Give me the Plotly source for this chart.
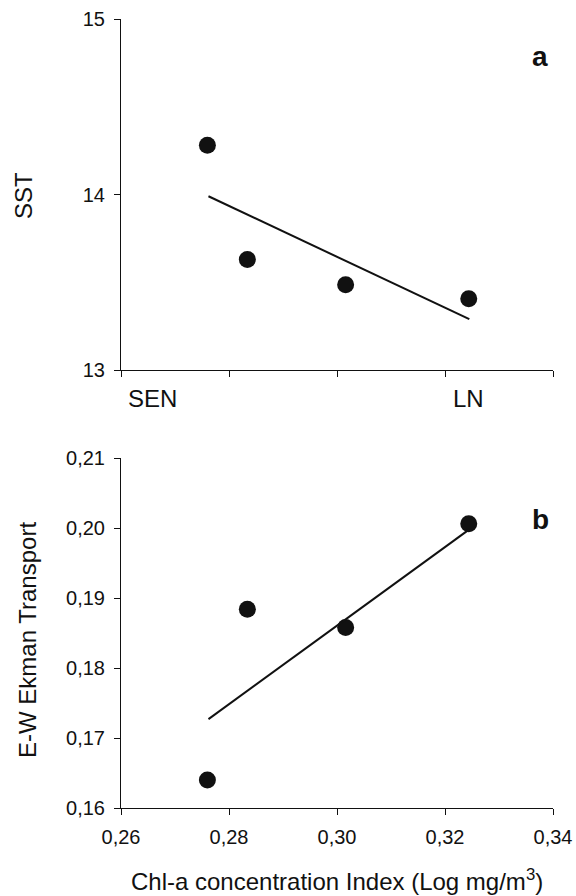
import plotly.graph_objects as go

# ---- data ----
chl_index = [0.2760, 0.2834, 0.3016, 0.3244]
sst = [14.28, 13.63, 13.486, 13.406]
ekman = [0.1640, 0.1884, 0.1858, 0.2006]

fit_x = [0.2762, 0.3245]
sst_fit = [13.99, 13.29]
ekman_fit = [0.1727, 0.1998]

x_ticks = [0.26, 0.28, 0.30, 0.32, 0.34]
sst_ticks = [13, 14, 15]
ekman_ticks = [0.16, 0.17, 0.18, 0.19, 0.20, 0.21]

end_labels = ["SEN", "LN"]
end_label_x = [0.2659, 0.3244]
panel_labels = ["a", "b"]

x_title = "Chl-a concentration Index (Log mg/m<sup>3</sup>)"
sst_title = "SST"
ekman_title = "E-W Ekman Transport"

FONT = "Liberation Sans, Arial, Helvetica, sans-serif"
INK = "#111111"
W, H = 576, 896

fig = go.Figure()

fig.add_trace(go.Scatter(x=chl_index, y=sst, mode="markers", xaxis="x", yaxis="y",
                         marker=dict(size=17, color=INK), showlegend=False))
fig.add_trace(go.Scatter(x=fit_x, y=sst_fit, mode="lines", xaxis="x", yaxis="y",
                         line=dict(color=INK, width=2), showlegend=False))
fig.add_trace(go.Scatter(x=chl_index, y=ekman, mode="markers", xaxis="x2", yaxis="y2",
                         marker=dict(size=17, color=INK), showlegend=False))
fig.add_trace(go.Scatter(x=fit_x, y=ekman_fit, mode="lines", xaxis="x2", yaxis="y2",
                         line=dict(color=INK, width=2), showlegend=False))

xdom = [121 / W, 553 / W]
top_dom = [1 - 370 / H, 1 - 19 / H]
bot_dom = [1 - 808 / H, 1 - 458 / H]

axis_common = dict(showline=True, linecolor=INK, linewidth=1, ticks="outside",
                   ticklen=6, tickcolor=INK, tickwidth=1, showgrid=False,
                   zeroline=False, automargin=False, ticklabelstandoff=5,
                   tickfont=dict(family=FONT, size=20, color=INK))

fig.update_layout(
    width=W, height=H,
    margin=dict(l=0, r=0, t=0, b=0, pad=0, autoexpand=False),
    paper_bgcolor="white", plot_bgcolor="white",
    separators=",.",
    font=dict(family=FONT, color=INK),
    xaxis=dict(domain=xdom, anchor="y", range=[0.26, 0.34], tickvals=x_ticks,
               showticklabels=False, **axis_common),
    yaxis=dict(domain=top_dom, anchor="x", range=[13, 15], tickvals=sst_ticks,
               **axis_common),
    xaxis2=dict(domain=xdom, anchor="y2", range=[0.26, 0.34], tickvals=x_ticks,
                tickformat=".2f", **axis_common),
    yaxis2=dict(domain=bot_dom, anchor="x2", range=[0.16, 0.21], tickvals=ekman_ticks,
                tickformat=".2f", **axis_common),
)

ann = []
for lab, lx in zip(end_labels, end_label_x):
    ann.append(dict(text=lab, x=lx, xref="x", y=1 - 398 / H, yref="paper",
                    showarrow=False, font=dict(family=FONT, size=24, color=INK),
                    xanchor="center", yanchor="middle"))
ann.append(dict(text="<b>%s</b>" % panel_labels[0], x=540 / W, xref="paper", y=1 - 57 / H,
                yref="paper", showarrow=False, font=dict(family=FONT, size=28, color=INK),
                xanchor="center", yanchor="middle"))
ann.append(dict(text="<b>%s</b>" % panel_labels[1], x=540 / W, xref="paper", y=1 - 519 / H,
                yref="paper", showarrow=False, font=dict(family=FONT, size=28, color=INK),
                xanchor="center", yanchor="middle"))
ann.append(dict(text=sst_title, x=23 / W, xref="paper", y=1 - 196 / H, yref="paper",
                textangle=-90, showarrow=False, font=dict(family=FONT, size=24, color=INK),
                xanchor="center", yanchor="middle"))
ann.append(dict(text=ekman_title, x=27 / W, xref="paper", y=1 - 640 / H, yref="paper",
                textangle=-90, showarrow=False, font=dict(family=FONT, size=24, color=INK),
                xanchor="center", yanchor="middle"))
ann.append(dict(text=x_title, x=337 / W, xref="paper", y=1 - 880 / H, yref="paper",
                showarrow=False, font=dict(family=FONT, size=24, color=INK),
                xanchor="center", yanchor="middle"))
fig.update_layout(annotations=ann)

fig.write_html("out.html", config={"displayModeBar": False},
               post_script="document.body.style.margin='0';document.body.style.overflow='hidden';")
